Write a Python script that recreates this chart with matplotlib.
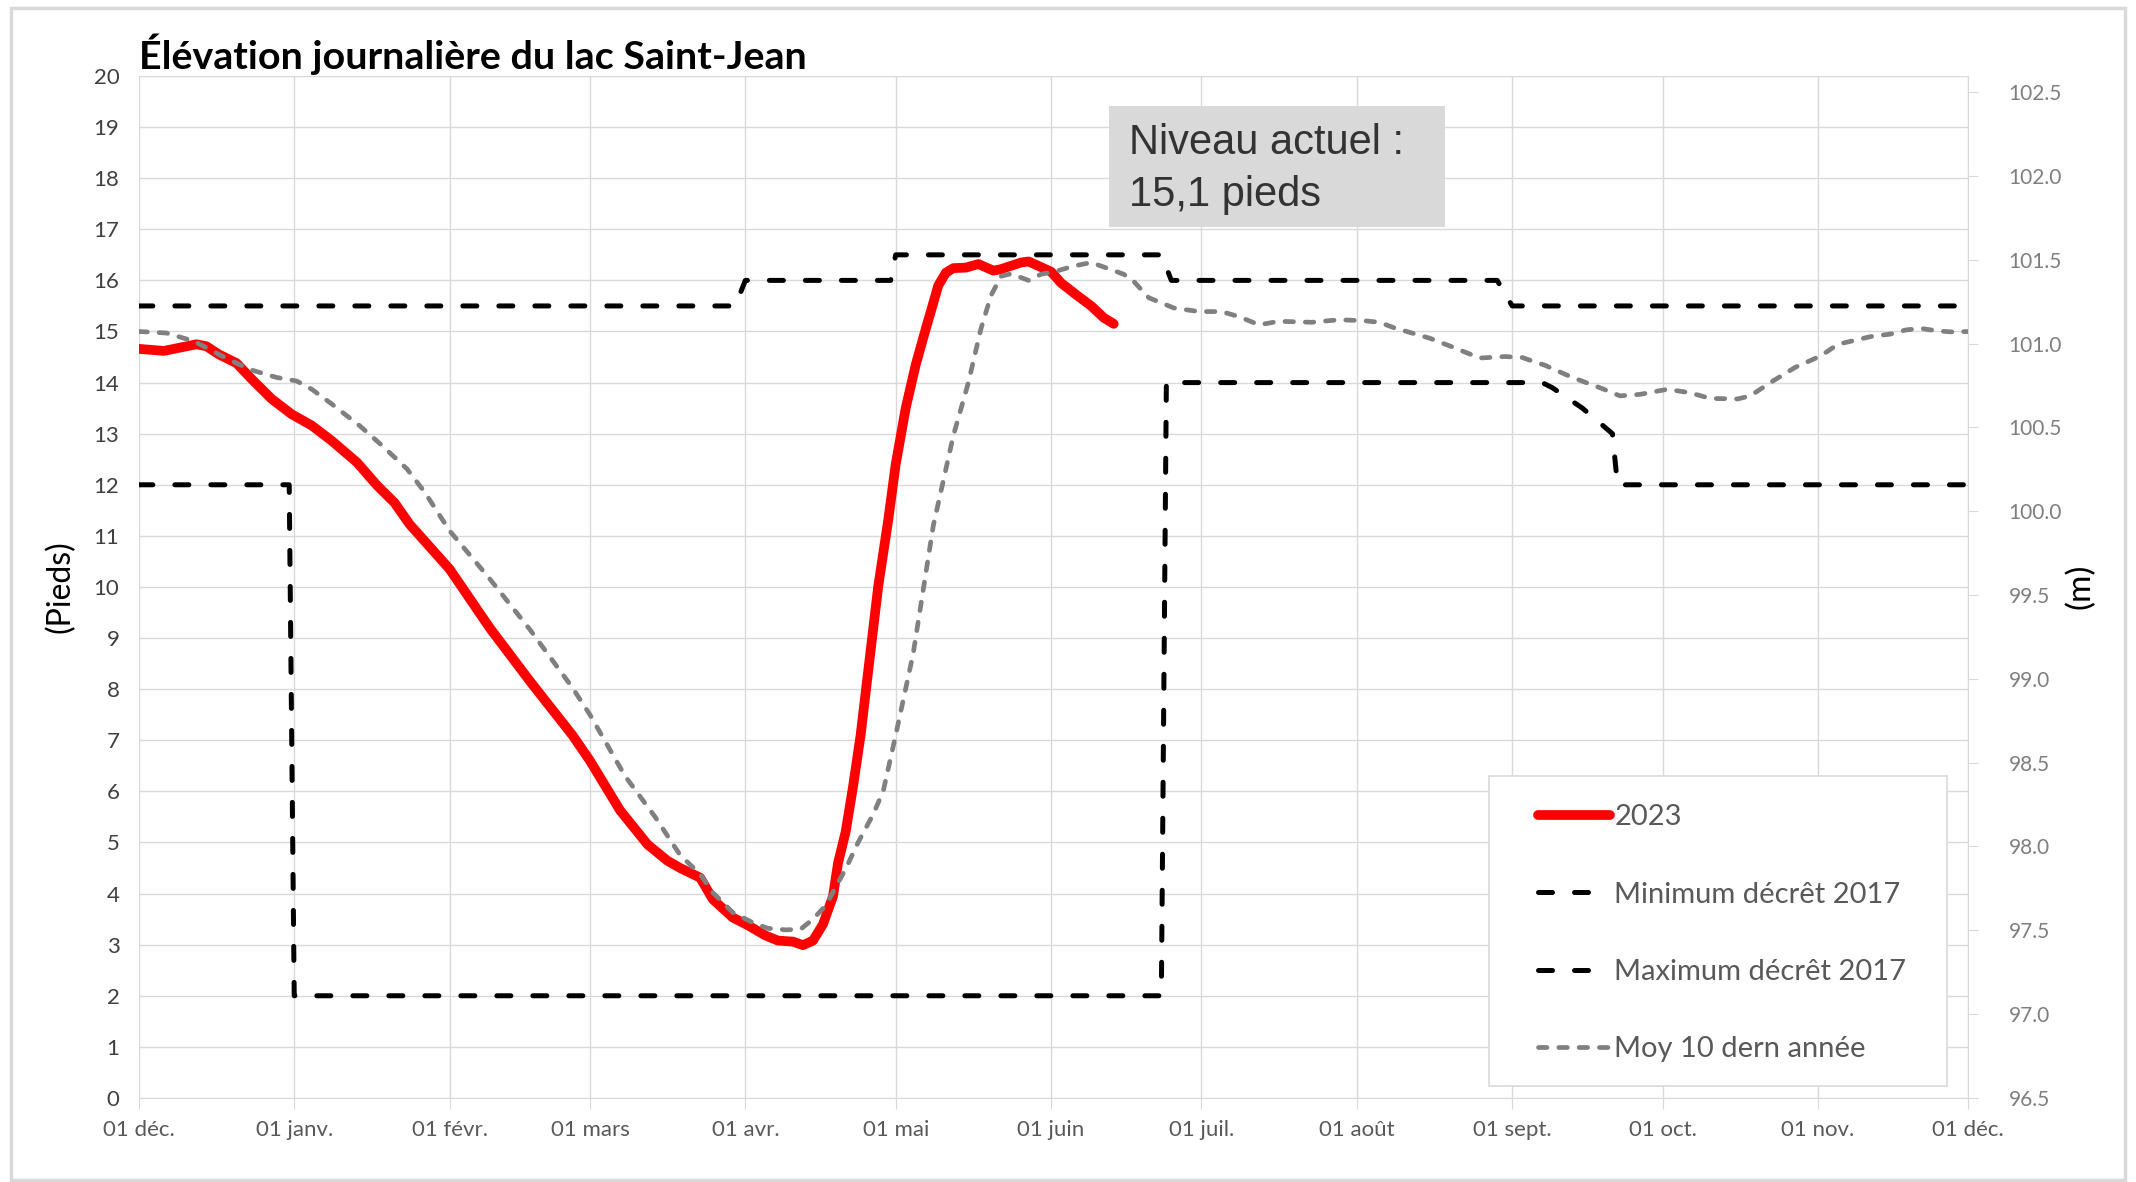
import numpy as np
import matplotlib.pyplot as plt
from matplotlib.patches import Rectangle

# jours écoulés depuis le 1er décembre 2022, niveaux en pieds
red_day = [0, 5, 8, 11.5, 13.5, 16, 19.5, 22.5, 26.5, 30.5, 34.5, 38.5, 43.5, 47.5, 51, 54,
           62, 70, 78, 86.5, 90, 96, 101.5, 105.5, 108, 112, 114.5, 118.5, 121.5, 125, 127.5,
           130.5, 132.5, 134.5, 136.5, 138.5, 139.5, 141, 142.5, 144, 147.5, 149.5, 151, 153,
           155, 157, 159.5, 161, 162.5, 165, 167.5, 170.5, 172, 176, 177.5, 180, 182, 184, 187,
           190, 192.5, 194.5]
red_ft = [14.66, 14.62, 14.68, 14.75, 14.71, 14.55, 14.38, 14.07, 13.68, 13.38, 13.16, 12.86,
          12.44, 11.99, 11.65, 11.23, 10.35, 9.2, 8.16, 7.1, 6.6, 5.63, 4.96, 4.64, 4.5, 4.31,
          3.89, 3.53, 3.38, 3.18, 3.08, 3.06, 2.99, 3.08, 3.4, 3.95, 4.6, 5.2, 6.1, 7.1, 10.0,
          11.3, 12.4, 13.5, 14.35, 15.05, 15.9, 16.15, 16.24, 16.25, 16.32, 16.19, 16.22, 16.35,
          16.37, 16.26, 16.17, 15.95, 15.72, 15.5, 15.27, 15.15]

avg_day = [0, 5.5, 11, 16, 22, 27.5, 31.5, 34.5, 38.5, 44, 48.5, 53.5, 57, 62, 70, 78, 86.5, 90,
           97, 103, 108, 112, 114.5, 118.5, 122.5, 125.5, 129, 132, 134.5, 137, 139, 141, 143.5,
           146.5, 148.5, 151, 154.5, 158.5, 162.5, 165.5, 168, 170, 172, 174, 177.5, 180, 183,
           186.5, 190, 192, 196.5, 198.5, 201.5, 206.5, 211.5, 216, 219.5, 223.5, 227.5, 234,
           239.5, 244.5, 247.5, 250.5, 257.5, 262.5, 267.5, 272.5, 276, 280.5, 286, 291.5,
           295.5, 299.5, 305, 309.5, 313.5, 319, 321.5, 325.5, 330.5, 335.5, 339, 345.5, 349.5,
           352.5, 355.5, 359, 362, 365]
avg_ft = [15.0, 14.97, 14.81, 14.55, 14.26, 14.1, 14.03, 13.87, 13.58, 13.16, 12.77, 12.31,
          11.86, 11.1, 10.16, 9.17, 8.03, 7.5, 6.3, 5.5, 4.75, 4.38, 4.02, 3.63, 3.43, 3.32, 3.29,
          3.3, 3.5, 3.76, 4.12, 4.48, 5.0, 5.55, 6.0, 7.1, 8.7, 11.2, 12.96, 14.0, 15.05, 15.7,
          16.08, 16.13, 16.0, 16.12, 16.18, 16.28, 16.35, 16.28, 16.12, 15.98, 15.66, 15.46,
          15.39, 15.39, 15.29, 15.13, 15.2, 15.18, 15.23, 15.21, 15.18, 15.07, 14.87, 14.68,
          14.48, 14.51, 14.49, 14.34, 14.1, 13.9, 13.74, 13.77, 13.87, 13.8, 13.69, 13.68,
          13.74, 14.0, 14.3, 14.52, 14.75, 14.9, 14.95, 15.03, 15.06, 15.01, 14.99, 15.0]

min_day = [0, 30, 31, 204, 205, 280, 282, 288, 294, 295, 365]
min_ft = [12, 12, 2, 2, 14, 14, 13.9, 13.5, 13.0, 12, 12]

max_day = [0, 119, 121, 150, 151, 204, 206, 271, 274, 365]
max_ft = [15.5, 15.5, 16.0, 16.0, 16.5, 16.5, 16.0, 16.0, 15.5, 15.5]

month_labels = ["01 déc.", "01 janv.", "01 févr.", "01 mars", "01 avr.", "01 mai", "01 juin",
                "01 juil.", "01 août", "01 sept.", "01 oct.", "01 nov.", "01 déc."]

FT_TO_M = 0.3048
M_BASE = 96.5

start = np.datetime64("2022-12-01")
months = np.arange("2022-12", "2024-01", dtype="datetime64[M]").astype("datetime64[D]")
month_pos = (months - start).astype(int)

plt.rcParams["font.family"] = ["Lato", "DejaVu Sans"]

fig = plt.figure(figsize=(21.36, 11.82), dpi=100)
ax = fig.add_axes([0.065, 0.0711, 0.8565, 0.8646])

ax.plot(red_day, red_ft, color="#ff0000", lw=7, solid_capstyle="round",
        solid_joinstyle="round", label="2023", zorder=3)
ax.plot(min_day, min_ft, color="black", lw=3.6, dashes=(2.8, 4.4), dash_capstyle="round",
        label="Minimum décrêt 2017", zorder=4)
ax.plot(max_day, max_ft, color="black", lw=3.6, dashes=(2.8, 4.4), dash_capstyle="round",
        label="Maximum décrêt 2017", zorder=4)
ax.plot(avg_day, avg_ft, color="#808080", lw=3.4, dashes=(1.8, 2.5), dash_capstyle="round",
        label="Moy 10 dern année", zorder=5)

ax.set_xlim(month_pos[0], month_pos[-1])
ax.set_ylim(0, 20)
ax.set_xticks(month_pos)
ax.set_xticklabels(month_labels)
ax.set_yticks(range(0, 21))
ax.grid(color="#d9d9d9", lw=1.0)
ax.set_axisbelow(True)
for s in ["left", "top", "right"]:
    ax.spines[s].set_visible(False)
ax.spines["bottom"].set_color("#d9d9d9")
ax.tick_params(axis="x", length=8, color="#d9d9d9", labelcolor="#595959", labelsize=16, pad=8)
ax.tick_params(axis="y", length=0, labelcolor="#404040", labelsize=16, pad=14)

ax2 = ax.twinx()
ax2.set_ylim(M_BASE, M_BASE + 20 * FT_TO_M)
ax2.set_yticks(np.arange(96.5, 102.51, 0.5))
ax2.set_yticklabels([f"{v:.1f}" for v in np.arange(96.5, 102.51, 0.5)])
for s in ["left", "top", "bottom"]:
    ax2.spines[s].set_visible(False)
ax2.spines["right"].set_color("#d9d9d9")
ax2.tick_params(axis="y", length=7, color="#d9d9d9", labelcolor="#7f7f7f", labelsize=15,
                pad=22)

# cadre de légende dessiné à part
ax.add_patch(Rectangle((0.738, 0.0117), 0.2504, 0.3033, transform=ax.transAxes,
                       facecolor="white", edgecolor="#d9d9d9", lw=1.2, zorder=9))
leg = ax.legend(loc="upper left", bbox_to_anchor=(0.765, 0.2873), borderaxespad=0,
                frameon=False, fontsize=21, labelcolor="#595959", handlelength=2.45,
                handletextpad=0.15, labelspacing=1.76, borderpad=0)
leg.set_zorder(10)

fig.text(0.065, 0.954, "Élévation journalière du lac Saint-Jean", fontsize=28.4,
         fontweight="bold", color="black", va="center", ha="left")

fig.text(0.0285, 0.504, "(Pieds)", rotation=90, fontsize=23, va="center", ha="center")
fig.text(0.974, 0.504, "(m)", rotation=90, fontsize=24, va="center", ha="center")

fig.patches.append(Rectangle((0.5192, 0.808), 0.1573, 0.1024, transform=fig.transFigure,
                             facecolor="#d9d9d9", edgecolor="none", zorder=20))
fig.text(0.5286, 0.879, "Niveau actuel :", fontsize=30, family="Liberation Sans",
         color="#333333", va="center", ha="left", zorder=21)
fig.text(0.5286, 0.835, "15,1 pieds", fontsize=30, family="Liberation Sans",
         color="#333333", va="center", ha="left", zorder=21)

fig.patches.append(Rectangle((0.005, 0.002), 0.99, 0.991, transform=fig.transFigure,
                             fill=False, edgecolor="#d9d9d9", lw=2.5))

fig.savefig("out.png", dpi=100)
